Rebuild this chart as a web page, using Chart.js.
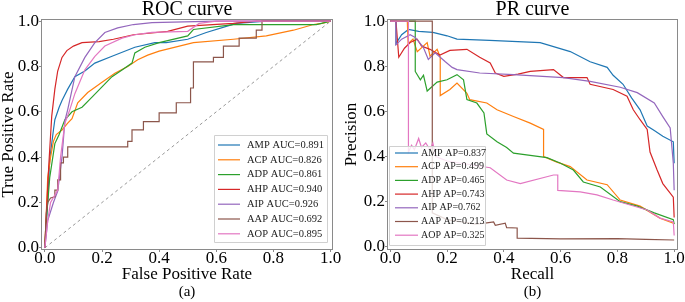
<!DOCTYPE html>
<html>
<head>
<meta charset="utf-8">
<script src="https://cdn.jsdelivr.net/npm/chart.js"></script>
<style>
html, body { margin: 0; padding: 0; background: #fff; }
#wrap { position: relative; width: 685px; height: 302px; }
canvas { position: absolute; top: 0; }
</style>
</head>
<body>
<div id="wrap">
<canvas id="rocChart" width="342" height="302" style="left:0;width:342px;height:302px"></canvas>
<canvas id="prChart" width="342" height="302" style="left:343px;width:342px;height:302px"></canvas>
</div>
<script>
// class names, scores and colours (tab10)
var classNames = ['AMP', 'ACP', 'ADP', 'AHP', 'AIP', 'AAP', 'AOP'];
var rocAuc = ['0.891', '0.826', '0.861', '0.940', '0.926', '0.692', '0.895'];
var prAp = ['0.837', '0.499', '0.465', '0.743', '0.762', '0.213', '0.325'];
var colors = ['#1f77b4', '#ff7f0e', '#2ca02c', '#d62728', '#9467bd', '#8c564b', '#e377c2'];
var tickValues = [0, 0.2, 0.4, 0.6, 0.8, 1.0];

// ROC curves, [fpr, tpr]
var rocAMP = [[0,0],[0.005,0.1],[0.01,0.21],[0.017,0.39],[0.03,0.52],[0.035,0.565],[0.05,0.62],[0.06,0.65],[0.08,0.70],[0.105,0.755],[0.14,0.78],[0.175,0.815],[0.235,0.845],[0.315,0.885],[0.385,0.905],[0.425,0.905],[0.5,0.92],[0.565,0.95],[0.635,0.977],[0.67,0.99],[0.775,1.0],[1,1]];
var rocACP = [[0,0],[0.005,0.15],[0.01,0.31],[0.02,0.4],[0.03,0.47],[0.04,0.5],[0.06,0.52],[0.08,0.55],[0.095,0.57],[0.115,0.64],[0.15,0.685],[0.2,0.73],[0.245,0.77],[0.29,0.80],[0.325,0.83],[0.36,0.85],[0.40,0.868],[0.52,0.905],[0.66,0.92],[0.775,0.935],[0.87,0.96],[0.94,0.985],[0.97,0.99],[1,1]];
var rocADP = [[0,0],[0.005,0.12],[0.017,0.31],[0.035,0.46],[0.05,0.5],[0.07,0.565],[0.095,0.6],[0.13,0.62],[0.165,0.665],[0.2,0.71],[0.235,0.755],[0.27,0.785],[0.305,0.815],[0.315,0.86],[0.35,0.885],[0.40,0.905],[0.5,0.935],[0.52,0.963],[0.66,0.985],[0.95,0.985],[1,1]];
var rocAHP = [[0,0],[0.004,0.12],[0.014,0.37],[0.024,0.58],[0.035,0.7],[0.045,0.78],[0.06,0.84],[0.077,0.87],[0.1,0.89],[0.13,0.905],[0.19,0.91],[0.24,0.92],[0.31,0.94],[0.43,0.955],[0.5,0.978],[0.66,0.99],[0.74,1.0],[1,1]];
var rocAIP = [[0,0],[0.01,0.12],[0.03,0.2],[0.045,0.25],[0.06,0.4],[0.07,0.56],[0.08,0.61],[0.105,0.755],[0.14,0.84],[0.175,0.905],[0.21,0.95],[0.255,0.97],[0.31,0.985],[0.375,0.993],[0.6,1.0],[1,1]];
var rocAAP = [[0,0],[0.005,0.15],[0.01,0.2],[0.02,0.22],[0.035,0.225],[0.035,0.255],[0.045,0.255],[0.045,0.3],[0.055,0.3],[0.055,0.375],[0.065,0.375],[0.065,0.4],[0.08,0.4],[0.08,0.445],[0.29,0.445],[0.29,0.47],[0.305,0.47],[0.305,0.52],[0.345,0.52],[0.345,0.557],[0.4,0.557],[0.4,0.595],[0.46,0.595],[0.46,0.64],[0.51,0.64],[0.51,0.705],[0.52,0.705],[0.52,0.82],[0.59,0.82],[0.59,0.84],[0.625,0.84],[0.625,0.89],[0.68,0.89],[0.68,0.925],[0.74,0.925],[0.74,0.96],[0.76,0.96],[0.76,1.0],[1,1]];
var rocAOP = [[0,0],[0.01,0.12],[0.02,0.2],[0.045,0.255],[0.055,0.4],[0.07,0.55],[0.085,0.6],[0.105,0.68],[0.14,0.785],[0.175,0.845],[0.21,0.89],[0.27,0.925],[0.315,0.94],[0.375,0.95],[0.5,0.955],[0.54,0.99],[0.6,1.0],[1,1]];
var rocDiagonal = [[0,0],[1,1]];

// PR curves, [recall, precision]
var prAMP = [[0,1],[0.02,1],[0.02,0.9],[0.04,0.94],[0.064,0.963],[0.1,0.955],[0.15,0.95],[0.2,0.935],[0.235,0.92],[0.35,0.915],[0.528,0.905],[0.634,0.865],[0.704,0.82],[0.764,0.795],[0.785,0.76],[0.82,0.72],[0.85,0.66],[0.88,0.607],[0.905,0.535],[0.93,0.515],[0.96,0.49],[0.997,0.465],[1,0.37]];
var prACP = [[0,1],[0.06,1],[0.063,0.9],[0.08,0.92],[0.095,0.865],[0.13,0.905],[0.14,0.845],[0.165,0.875],[0.176,0.84],[0.176,0.67],[0.21,0.697],[0.235,0.725],[0.27,0.68],[0.28,0.652],[0.34,0.637],[0.376,0.607],[0.434,0.577],[0.493,0.548],[0.54,0.52],[0.54,0.4],[0.587,0.375],[0.634,0.355],[0.693,0.296],[0.764,0.275],[0.81,0.207],[0.88,0.18],[0.95,0.127],[0.997,0.104],[1,0.1]];
var prADP = [[0,1],[0.088,1],[0.088,0.777],[0.106,0.74],[0.117,0.76],[0.13,0.69],[0.165,0.73],[0.2,0.74],[0.235,0.763],[0.258,0.74],[0.27,0.652],[0.305,0.637],[0.33,0.593],[0.34,0.5],[0.376,0.465],[0.41,0.44],[0.434,0.415],[0.493,0.405],[0.552,0.395],[0.6,0.37],[0.645,0.34],[0.68,0.287],[0.74,0.265],[0.81,0.2],[0.87,0.18],[0.93,0.15],[0.997,0.12],[1,0.1]];
var prAHP = [[0,1],[0.02,1],[0.03,0.84],[0.05,0.88],[0.07,0.905],[0.095,0.92],[0.11,0.89],[0.14,0.875],[0.175,0.85],[0.21,0.87],[0.27,0.875],[0.315,0.84],[0.352,0.815],[0.37,0.77],[0.4,0.755],[0.45,0.765],[0.493,0.777],[0.575,0.785],[0.61,0.75],[0.693,0.75],[0.704,0.72],[0.785,0.697],[0.834,0.667],[0.856,0.607],[0.88,0.563],[0.905,0.52],[0.915,0.42],[0.94,0.34],[0.96,0.28],[0.997,0.22],[1,0.13]];
var prAIP = [[0,1],[0.02,1],[0.02,0.895],[0.04,0.92],[0.07,0.94],[0.088,0.928],[0.116,0.885],[0.134,0.83],[0.158,0.86],[0.194,0.82],[0.218,0.795],[0.235,0.785],[0.315,0.77],[0.434,0.763],[0.61,0.75],[0.704,0.733],[0.81,0.707],[0.87,0.683],[0.93,0.637],[0.96,0.577],[0.986,0.527],[0.997,0.37],[1,0.25]];
var prAAP = [[0,1],[0.148,1],[0.148,0.15],[0.2,0.12],[0.25,0.11],[0.3,0.1],[0.328,0.104],[0.364,0.11],[0.37,0.095],[0.405,0.104],[0.41,0.085],[0.447,0.083],[0.447,0.038],[0.6,0.035],[0.8,0.036],[0.9,0.033],[1,0.03]];
var prAOP = [[0,1],[0.064,1],[0.064,0.42],[0.075,0.45],[0.085,0.43],[0.1,0.48],[0.11,0.44],[0.125,0.46],[0.14,0.43],[0.15,0.46],[0.16,0.4],[0.2,0.38],[0.25,0.37],[0.3,0.36],[0.352,0.35],[0.41,0.296],[0.458,0.28],[0.575,0.318],[0.59,0.318],[0.59,0.25],[0.669,0.243],[0.728,0.23],[0.785,0.207],[0.845,0.185],[0.905,0.163],[0.95,0.127],[0.997,0.11],[1,0.05]];

var rocCurves = [rocAMP, rocACP, rocADP, rocAHP, rocAIP, rocAAP, rocAOP];
var prCurves = [prAMP, prACP, prADP, prAHP, prAIP, prAAP, prAOP];

var FONT = '"Liberation Serif", "Times New Roman", serif';

function toXY(arr) {
    return arr.map(function (p) { return { x: p[0], y: p[1] }; });
}

// box around the plot, like matplotlib spines
var framePlugin = {
    id: 'frame',
    afterDatasetsDraw: function (chart) {
        var a = chart.chartArea, ctx = chart.ctx;
        ctx.save();
        ctx.strokeStyle = '#8a8a8a';
        ctx.lineWidth = 1;
        ctx.strokeRect(Math.round(a.left) - 0.5, Math.round(a.top) - 0.5,
            Math.round(a.right - a.left) + 1, Math.round(a.bottom - a.top) + 1);
        ctx.restore();
    }
};

// legend drawn inside the plot area
var boxLegendPlugin = {
    id: 'boxLegend',
    afterDraw: function (chart, args, opts) {
        var a = chart.chartArea, ctx = chart.ctx;
        var x0 = opts.anchor === 'left' ? a.left + opts.dx : a.right - opts.dx - opts.width;
        var y0 = a.bottom - opts.dy - opts.height;
        ctx.save();
        ctx.fillStyle = 'rgba(255,255,255,0.8)';
        ctx.strokeStyle = '#d0d0d0';
        ctx.lineWidth = 1;
        ctx.beginPath();
        ctx.rect(Math.round(x0) + 0.5, Math.round(y0) + 0.5, opts.width, opts.height);
        ctx.fill();
        ctx.stroke();
        ctx.font = opts.fontSize + 'px ' + FONT;
        ctx.textBaseline = 'middle';
        ctx.fillStyle = '#222';
        opts.labels.forEach(function (label, i) {
            var y = y0 + opts.firstRow + i * opts.rowStep;
            ctx.strokeStyle = colors[i];
            ctx.lineWidth = 1.2;
            ctx.beginPath();
            ctx.moveTo(x0 + opts.lineStart, y);
            ctx.lineTo(x0 + opts.lineStart + opts.lineLen, y);
            ctx.stroke();
            ctx.fillText(label, x0 + opts.textStart, y);
        });
        ctx.restore();
    }
};

function makeChart(id, cfg) {
    var datasets = cfg.curves.map(function (c, i) {
        return {
            label: classNames[i],
            data: toXY(c),
            borderColor: colors[i],
            borderWidth: 1.2,
            pointRadius: 0,
            fill: false,
            tension: 0,
            order: 20 - i
        };
    });
    if (cfg.diagonal) {
        datasets.push({
            label: 'chance',
            data: toXY(cfg.diagonal),
            borderColor: '#8c8c8c',
            borderWidth: 0.9,
            borderDash: [3, 3],
            pointRadius: 0,
            fill: false,
            order: 30
        });
    }
    var tickOpts = {
        font: { family: FONT, size: 17 },
        color: '#000',
        autoSkip: false,
        maxRotation: 0,
        callback: function (v) { return Number(v).toFixed(1); }
    };
    var gridOpts = { display: true, drawOnChartArea: false, drawTicks: true, tickLength: 3, color: '#8a8a8a' };
    var setTicks = function (scale) { scale.ticks = tickValues.map(function (v) { return { value: v }; }); };

    return new Chart(document.getElementById(id).getContext('2d'), {
        type: 'line',
        data: { datasets: datasets },
        options: {
            responsive: false,
            animation: false,
            layout: { padding: { left: 0, right: cfg.padRight, top: 0, bottom: 0 } },
            scales: {
                x: {
                    type: 'linear',
                    min: cfg.xMin, max: cfg.xMax,
                    afterBuildTicks: setTicks,
                    afterFit: function (s) { s.height = 36; },
                    ticks: Object.assign({ padding: -4 }, tickOpts),
                    grid: gridOpts,
                    border: { display: false },
                    title: { display: true, text: cfg.xTitle, color: '#000',
                             font: { family: FONT, size: 17, lineHeight: 1.2 }, padding: 0 }
                },
                y: {
                    type: 'linear',
                    min: cfg.yMin, max: cfg.yMax,
                    afterBuildTicks: setTicks,
                    afterFit: function (s) { s.width = cfg.yWidth; },
                    ticks: Object.assign({ padding: 0 }, tickOpts),
                    grid: gridOpts,
                    border: { display: false },
                    title: { display: true, text: cfg.yTitle, color: '#000',
                             font: { family: FONT, size: 17, lineHeight: 1.0 }, padding: 0 }
                }
            },
            plugins: {
                legend: { display: false },
                tooltip: { enabled: false },
                title: {
                    display: true, text: cfg.title, color: '#000', fullSize: false,
                    font: { family: FONT, size: 20, weight: 'normal', lineHeight: 1.0 },
                    padding: 0
                },
                subtitle: {
                    display: true, text: cfg.caption, position: 'bottom', color: '#000', fullSize: false,
                    font: { family: FONT, size: 15, lineHeight: 1.0 },
                    padding: { top: 0, bottom: 2 }
                },
                boxLegend: cfg.legend
            }
        },
        plugins: [framePlugin, boxLegendPlugin]
    });
}

makeChart('rocChart', {
    curves: rocCurves,
    diagonal: rocDiagonal,
    title: 'ROC curve', caption: '(a)',
    xTitle: 'False Positive Rate', yTitle: 'True Positive Rate',
    xMin: -0.01, xMax: 1.005, yMin: -0.005, yMax: 1.005,
    yWidth: 42, padRight: 10,
    legend: {
        labels: classNames.map(function (n, i) { return n + ' AUC=' + rocAuc[i]; }),
        anchor: 'right', dx: 5, dy: 7, width: 113, height: 107,
        firstRow: 10, rowStep: 14.8, lineStart: 4, lineLen: 22, textStart: 33, fontSize: 10.5
    }
});

makeChart('prChart', {
    curves: prCurves,
    title: 'PR curve', caption: '(b)',
    xTitle: 'Recall', yTitle: 'Precision',
    xMin: -0.008, xMax: 1.01, yMin: -0.01, yMax: 1.005,
    yWidth: 45, padRight: 8,
    legend: {
        labels: classNames.map(function (n, i) { return n + ' AP=' + prAp[i]; }),
        anchor: 'left', dx: 1, dy: 4, width: 96, height: 99,
        firstRow: 7, rowStep: 13.7, lineStart: 6, lineLen: 23, textStart: 32, fontSize: 10
    }
});
</script>
</body>
</html>
